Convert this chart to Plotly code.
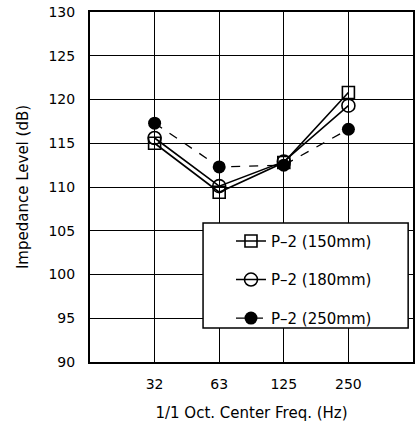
import plotly.graph_objects as go

freqs = ["32", "63", "125", "250"]
p150 = [115.0, 109.4, 112.8, 120.8]
p180 = [115.6, 110.1, 112.9, 119.3]
p250 = [117.3, 112.3, 112.5, 116.6]
series_names = ["P\u20132 (150mm)", "P\u20132 (180mm)", "P\u20132 (250mm)"]

fig = go.Figure()
fig.add_trace(go.Scatter(x=freqs, y=p150, name=series_names[0], mode="lines+markers",
                         line=dict(color="black", width=1.6),
                         marker=dict(symbol="square-open", size=12, color="black", line=dict(width=1.6)),
                         legendgroup="a"))
fig.add_trace(go.Scatter(x=freqs, y=p180, name=series_names[1], mode="lines+markers",
                         line=dict(color="black", width=1.6),
                         marker=dict(symbol="circle-open", size=13, color="black", line=dict(width=1.6)),
                         legendgroup="b"))
fig.add_trace(go.Scatter(x=freqs, y=p250, name=series_names[2], mode="lines+markers",
                         line=dict(color="black", width=1.3, dash="dash"),
                         marker=dict(symbol="circle", size=13, color="black"),
                         legendgroup="c"))

# opaque legend box
fig.add_shape(type="rect", xref="paper", yref="paper", x0=0.350, x1=0.985, y0=0.097, y1=0.397,
              fillcolor="white", line=dict(color="black", width=1.5), layer="above")

font = "DejaVu Sans, Liberation Sans, sans-serif"
fig.update_layout(
    width=420, height=422,
    margin=dict(l=90, r=7, t=12, b=60, autoexpand=False),
    paper_bgcolor="white", plot_bgcolor="white",
    font=dict(family=font, size=14, color="black"),
    showlegend=True,
    legend=dict(x=0.4365, y=0.392, xanchor="left", yanchor="top",
                bgcolor="rgba(0,0,0,0)", borderwidth=0,
                font=dict(size=15), tracegroupgap=16, itemwidth=30),
    xaxis=dict(type="category", range=[-1, 4], showgrid=True, gridcolor="black", gridwidth=1.2,
               showline=True, linecolor="black", linewidth=2, mirror=True,
               ticks="", tickfont=dict(size=14), zeroline=False, ticklabelstandoff=8,
               automargin=False,
               title=dict(text="1/1 Oct. Center Freq. (Hz)", font=dict(size=15), standoff=18)),
    yaxis=dict(range=[90, 130], dtick=5, showgrid=True, gridcolor="black", gridwidth=1.2,
               showline=True, linecolor="black", linewidth=2, mirror=True,
               ticks="", tickfont=dict(size=14), zeroline=False, ticklabelstandoff=10,
               automargin=False,
               title=dict(text="Impedance Level (dB)", font=dict(size=15), standoff=16)),
)
fig.write_html("out.html", config={"displayModeBar": False},
               post_script="document.body.style.margin='0';")
